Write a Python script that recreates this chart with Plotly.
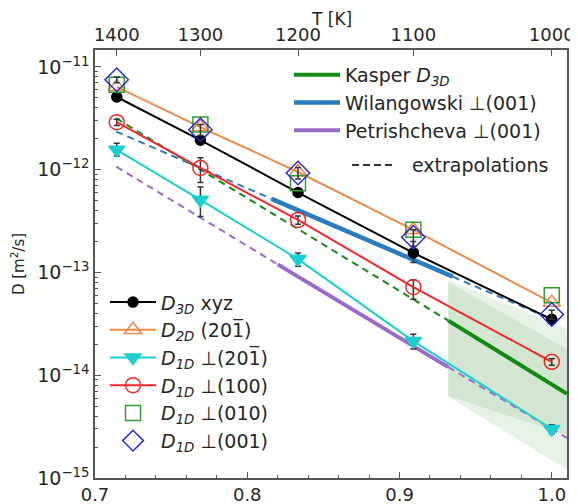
import plotly.graph_objects as go

# ---------------- data ----------------
T_K = [1400, 1300, 1200, 1100, 1000]
top_ticks = [1400, 1300, 1200, 1100, 1000]

D3D_xyz = [5.1e-12, 1.94e-12, 6.0e-13, 1.55e-13, 3.5e-14]
D3D_err_up = [0.3e-12, 0.15e-12, 0.5e-13, 0.45e-13, 0.3e-14]
D3D_err_dn = [0.3e-12, 0.15e-12, 0.5e-13, 0.3e-13, 0.3e-14]

D2D_201 = [6.4e-12, 2.6e-12, 9.5e-13, 2.6e-13, 5.1e-14]

D1D_201 = [1.56e-12, 5.1e-13, 1.35e-13, 2.15e-14, 3.0e-15]
D1D_201_err_up = [0.25e-12, 1.7e-13, 0.2e-13, 0.35e-14, 0.3e-15]
D1D_201_err_dn = [0.2e-12, 1.6e-13, 0.2e-13, 0.35e-14, 0.3e-15]

D1D_100 = [2.9e-12, 1.04e-12, 3.25e-13, 7.2e-14, 1.35e-14]
D1D_100_err_up = [0.2e-12, 0.27e-12, 0.3e-13, 1.3e-14, 0.1e-14]
D1D_100_err_dn = [0.2e-12, 0.29e-12, 0.3e-13, 1.7e-14, 0.1e-14]

D1D_010 = [6.7e-12, 2.75e-12, 7.4e-13, 2.6e-13, 6.0e-14]
D1D_001 = [7.5e-12, 2.45e-12, 9.3e-13, 2.2e-13, 3.9e-14]
D1D_001_err_up = [0.5e-12, 0.3e-12, 1.2e-13, 0.4e-13, 0.4e-14]
D1D_001_err_dn = [0.5e-12, 0.3e-12, 1.2e-13, 0.4e-13, 0.4e-14]

# literature Arrhenius lines (1000/T, D) read at segment boundaries
kasper_x_ext = [0.714, 0.932]
kasper_D_ext = [3.16e-12, 3.4e-14]
kasper_x = [0.932, 1.01]
kasper_D = [3.4e-14, 6.6e-15]

wil_x_ext1 = [0.714, 0.816]
wil_D_ext1 = [2.35e-12, 5.2e-13]
wil_x = [0.816, 0.935]
wil_D = [5.2e-13, 9.1e-14]
wil_x_ext2 = [0.935, 1.0]
wil_D_ext2 = [9.1e-14, 3.5e-14]

pet_x_ext1 = [0.714, 0.82]
pet_D_ext1 = [1.07e-12, 1.2e-13]
pet_x = [0.82, 0.932]
pet_D = [1.2e-13, 1.2e-14]
pet_x_ext2 = [0.932, 1.01]
pet_D_ext2 = [1.2e-14, 2.45e-15]

# Kasper uncertainty bands
band_x = [0.932, 1.01]
band_outer_hi = [8.5e-14, 2.8e-14]
band_outer_lo = [6.2e-15, 1.2e-15]
band_inner_hi = [8.1e-14, 1.8e-14]
band_inner_lo = [6.3e-15, 2.6e-15]

x_vals = [1000.0 / t for t in T_K]

# ---------------- figure ----------------
fig = go.Figure()
FONT = "DejaVu Sans"
TXT = "#262626"
ERRC = "#333333"

def band(xs, hi, lo, color):
    fig.add_trace(go.Scatter(
        x=xs + xs[::-1], y=hi + lo[::-1], fill="toself", fillcolor=color,
        line=dict(width=0), mode="lines", showlegend=False, hoverinfo="skip"))

band(band_x, band_outer_hi, band_outer_lo, "rgba(60,150,60,0.12)")
band(band_x, band_inner_hi, band_inner_lo, "rgba(60,150,60,0.12)")

def lit(xs, ds, color, width, dash, name=None, show=False):
    fig.add_trace(go.Scatter(
        x=xs, y=ds, mode="lines", line=dict(color=color, width=width, dash=dash),
        name=name, showlegend=show, legend="legend", legendgroup=name or None))

GREEN = "#138a13"
BLUE = "#2a7bbf"
PURPLE = "#9a6acb"
lit(kasper_x_ext, kasper_D_ext, GREEN, 2, "7px,5px")
lit(wil_x_ext1, wil_D_ext1, BLUE, 2, "7px,5px")
lit(wil_x_ext2, wil_D_ext2, BLUE, 2, "7px,5px")
lit(pet_x_ext1, pet_D_ext1, PURPLE, 2, "7px,5px")
lit(pet_x_ext2, pet_D_ext2, PURPLE, 2, "7px,5px")
lit(kasper_x, kasper_D, GREEN, 4, "solid", "Kasper <i>D</i><sub><i>3D</i></sub>", True)
lit(wil_x, wil_D, BLUE, 4.5, "solid", "Wilangowski ⊥(001)", True)
lit(pet_x, pet_D, PURPLE, 4, "solid", "Petrishcheva ⊥(001)", True)

def series(ys, name, color, symbol, size, mode="lines+markers", fillc=None,
           up=None, dn=None, lw=2):
    err = None
    if up is not None:
        err = dict(type="data", array=up, arrayminus=dn, color=ERRC,
                   thickness=1.5, width=3)
    fig.add_trace(go.Scatter(
        x=x_vals, y=ys, mode=mode, name=name, legend="legend2", legendgroup=name,
        line=dict(color=color, width=lw),
        marker=dict(symbol=symbol, size=size, color=fillc or color,
                    line=dict(color=color, width=1.5)),
        error_y=err))

series(D3D_xyz, "<i>D</i><sub><i>3D</i></sub> xyz", "#000000", "circle", 10,
       up=D3D_err_up, dn=D3D_err_dn)
series(D2D_201, "<i>D</i><sub><i>2D</i></sub> (201\u0305)", "#ee8a4a", "triangle-up-open", 15)
series(D1D_201, "<i>D</i><sub><i>1D</i></sub> ⊥(201\u0305)", "#1ccfcf", "triangle-down", 14,
       up=D1D_201_err_up, dn=D1D_201_err_dn)
series(D1D_100, "<i>D</i><sub><i>1D</i></sub> ⊥(100)", "#f0282a", "circle-open", 15,
       up=D1D_100_err_up, dn=D1D_100_err_dn)
series(D1D_010, "<i>D</i><sub><i>1D</i></sub> ⊥(010)", "#2e9e2e", "square-open", 15,
       mode="markers")
series(D1D_001, "<i>D</i><sub><i>1D</i></sub> ⊥(001)", "#2b2bd8", "diamond-open", 18,
       mode="markers", up=D1D_001_err_up, dn=D1D_001_err_dn)

# secondary (top) axis carrier
fig.add_trace(go.Scatter(x=[1000.0 / t for t in top_ticks], y=[None] * len(top_ticks),
                         xaxis="x2", showlegend=False, hoverinfo="skip"))

XR = [0.7, 1.01]
AXC = "#555555"
axis_common = dict(showline=True, linecolor=AXC, linewidth=1.5, automargin=False,
                   ticks="inside", tickcolor=AXC, showgrid=False, zeroline=False)

# the page body adds an 8px offset, so the figure is 8px smaller on each axis
fig.update_layout(
    width=570, height=496,
    margin=dict(l=87, r=11, t=42, b=26, autoexpand=False),
    paper_bgcolor="white", plot_bgcolor="white",
    font=dict(family=FONT, color=TXT),
    xaxis=dict(range=XR, tickvals=[0.7, 0.8, 0.9, 1.0],
               ticktext=["0.7", "0.8", "0.9", "1.0"], ticklen=6, mirror=False,
               tickfont=dict(family=FONT, size=18, color=TXT),
               minor=dict(ticks="inside", dtick=0.02, tick0=0.7, ticklen=3,
                          tickcolor=AXC),
               **axis_common),
    xaxis2=dict(range=XR, overlaying="x", side="top", anchor="y",
                tickvals=[1000.0 / t for t in top_ticks],
                ticktext=[str(t) for t in top_ticks], ticklen=6,
                tickfont=dict(family=FONT, size=18, color=TXT),
                **axis_common),
    yaxis=dict(type="log", range=[-15, -10.835], mirror=True,
               tickvals=[1e-15, 1e-14, 1e-13, 1e-12, 1e-11],
               ticktext=["10<sup>−15</sup>", "10<sup>−14</sup>", "10<sup>−13</sup>",
                         "10<sup>−12</sup>", "10<sup>−11</sup>"],
               ticklen=6, tickfont=dict(family=FONT, size=19, color=TXT),
               minor=dict(ticks="inside", ticklen=3, tickcolor=AXC, dtick="D1"),
               title=dict(text="D [m<sup>2</sup>/s]",
                          font=dict(family=FONT, size=15, color=TXT), standoff=32),
               **axis_common),
    legend=dict(x=0.411, y=0.986, xanchor="left", yanchor="top",
                bgcolor="rgba(0,0,0,0)", font=dict(family=FONT, size=19, color=TXT),
                itemwidth=46, tracegroupgap=4, traceorder="normal"),
    legend2=dict(x=0.0212, y=0.455, xanchor="left", yanchor="top",
                 bgcolor="rgba(0,0,0,0)", font=dict(family=FONT, size=19, color=TXT),
                 itemwidth=46, tracegroupgap=21, traceorder="normal"),
    shapes=[dict(type="line", xref="paper", yref="paper", x0=0.5445, x1=0.631,
                 y0=0.7313, y1=0.7313, line=dict(color="#333333", width=2, dash="7px,4px"))],
    annotations=[
        dict(text="extrapolations", xref="paper", yref="paper",
             x=0.667, y=0.7313, xanchor="left", yanchor="middle",
             showarrow=False, font=dict(family=FONT, size=19, color=TXT)),
        dict(text="T [K]", xref="paper", yref="paper", x=0.5, y=1.072,
             xanchor="center", yanchor="middle", showarrow=False,
             font=dict(family=FONT, size=17, color=TXT)),
    ],
)

fig.write_html("out.html")
